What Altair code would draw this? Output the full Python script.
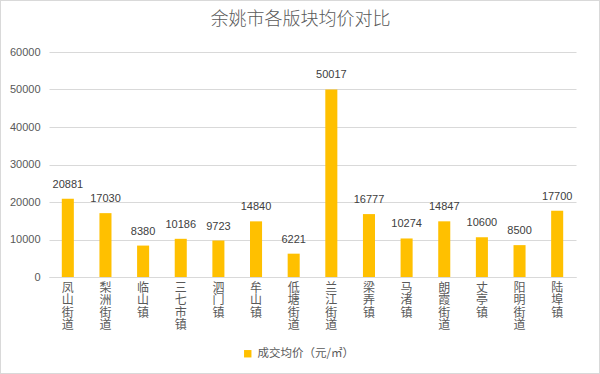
import altair as alt
import pandas as pd

categories = ["凤山街道", "梨洲街道", "临山镇", "三七市镇", "泗门镇", "牟山镇", "低塘街道",
              "兰江街道", "梁弄镇", "马渚镇", "朗霞街道", "丈亭镇", "阳明街道", "陆埠镇"]
values = [20881, 17030, 8380, 10186, 9723, 14840, 6221, 50017, 16777, 10274, 14847, 10600, 8500, 17700]
series_name = "成交均价（元/㎡）"
title_text = "余姚市各版块均价对比"

df = pd.DataFrame({"区域": categories, "均价": values, "系列": series_name})

CJK = "Noto Sans CJK SC"
NUM = "Liberation Sans"
GREY = "#595959"

x_enc = alt.X(
    "区域:N", sort=categories,
    scale=alt.Scale(paddingInner=0.68, paddingOuter=0.34),
    axis=alt.Axis(title=None, labelAngle=0, labelExpr="split(datum.label, '')",
                  labelFont=CJK, labelFontSize=12, labelColor=GREY, labelLineHeight=12.5,
                  labelBaseline="top", labelPadding=5, labelOverlap=False,
                  ticks=False, domainColor="#d9d9d9", grid=False),
)
y_enc = alt.Y(
    "均价:Q",
    scale=alt.Scale(domain=[0, 60000]),
    axis=alt.Axis(title=None, values=[0, 10000, 20000, 30000, 40000, 50000, 60000],
                  format="d", labelFont=NUM, labelFontSize=11, labelColor=GREY,
                  labelPadding=9, ticks=False, domain=False, labelOverlap=False,
                  gridColor="#d9d9d9", gridWidth=1),
)

base = alt.Chart(df).encode(x=x_enc, y=y_enc)

bars = base.mark_bar(color="#FFC000").encode(
    color=alt.Color("系列:N", scale=alt.Scale(range=["#FFC000"]),
                    legend=alt.Legend(title=None, orient="none", legendX=193, legendY=296,
                                      symbolType="square", symbolSize=55, symbolStrokeWidth=0,
                                      labelFont=CJK, labelFontSize=11.5, labelColor=GREY,
                                      labelOffset=4)),
)

labels = base.mark_text(dy=-9, baseline="bottom", font=NUM, fontSize=11,
                         color="#404040").encode(text="均价:Q")

title = alt.Chart(pd.DataFrame({"t": [title_text]})).mark_text(
    font=CJK, fontSize=18, fontWeight=300, color=GREY, baseline="middle", align="center").encode(
    text="t:N", x=alt.value(251.5), y=alt.value(-32))

border = alt.Chart(df).mark_rect(fill=None, stroke="#d9d9d9", strokeWidth=1).encode(
    x=alt.value(-48.5), x2=alt.value(550.5), y=alt.value(-51.5), y2=alt.value(321.5))

chart = alt.layer(bars, labels, title, border).properties(
    width=527, height=225,
    padding={"left": 49, "top": 52, "right": 24, "bottom": 97},
    autosize=alt.AutoSizeParams(type="none"),
).configure_view(stroke=None)

chart.save("out.html", embed_options={"renderer": "svg", "actions": False})
